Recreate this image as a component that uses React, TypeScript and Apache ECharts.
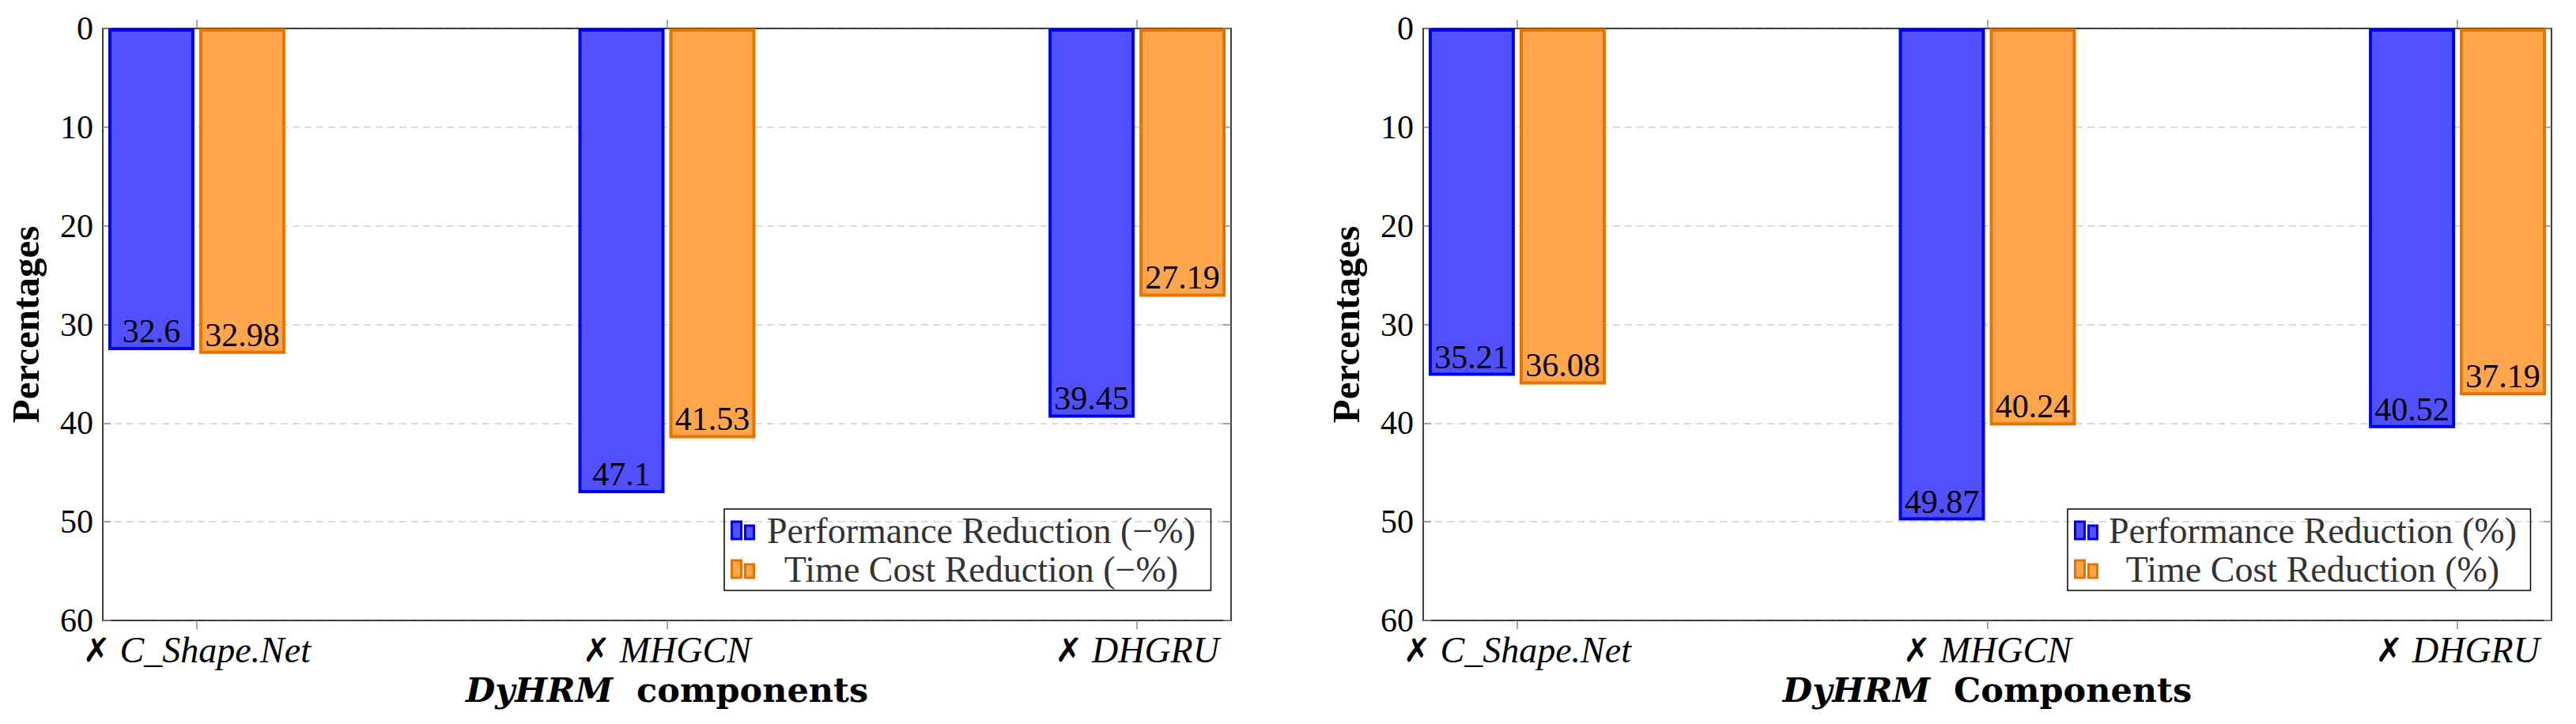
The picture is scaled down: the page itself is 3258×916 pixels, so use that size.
import React, { useEffect, useRef } from 'react'
import * as echarts from 'echarts'

const categories = ['C_Shape.Net', 'MHGCN', 'DHGRU']
const perfLeft = [32.6, 47.1, 39.45]
const timeLeft = [32.98, 41.53, 27.19]
const perfRight = [35.21, 49.87, 40.52]
const timeRight = [36.08, 40.24, 37.19]
const legendLeft = ['Performance Reduction (−%)', 'Time Cost Reduction (−%)']
const legendRight = ['Performance Reduction (%)', 'Time Cost Reduction (%)']
const xNames = ['components', 'Components']

const SERIF = 'Liberation Serif, DejaVu Serif, serif'
const WIDE_SERIF = 'DejaVu Serif, serif'
const BLUE = { fill: '#5050FF', border: '#0000E6' }
const ORANGE = { fill: '#FFA64D', border: '#E67300' }
const ICON = 'path://M0,0H12V22H0Z M17,5H28V22H17Z'

const catIdx = categories.map((_, i) => i)

const App: React.FC = () => {
  const chartRef = useRef<HTMLDivElement>(null)

  useEffect(() => {
    if (!chartRef.current) return
    const chart = echarts.init(chartRef.current, undefined, { renderer: 'svg' })

    const grids = [
      { left: 130, top: 36, width: 1427, height: 749 },
      { left: 1800, top: 36, width: 1427, height: 749 }
    ]

    const xAxes: any[] = []
    const yAxes: any[] = []
    grids.forEach((_, g) => {
      xAxes.push({
        type: 'value',
        gridIndex: g,
        position: 'bottom',
        min: -0.2,
        max: 2.2,
        axisLine: { show: true, onZero: false, lineStyle: { color: '#000', width: 1.5 } },
        axisTick: { show: true, inside: false, length: 11, customValues: catIdx, lineStyle: { color: '#888', width: 1.5 } },
        axisLabel: {
          customValues: catIdx,
          margin: 14,
          formatter: (v: number) => `{m|✗}{i| ${categories[Math.round(v)]}}`,
          rich: {
            m: { fontFamily: 'DejaVu Sans, sans-serif', fontSize: 42, fontWeight: 'bold', color: '#000' },
            i: { fontFamily: SERIF, fontStyle: 'italic', fontSize: 46, color: '#000' }
          }
        },
        splitLine: { show: false },
        name: `{bi|DyHRM}{b|  ${xNames[g]}}`,
        nameLocation: 'middle',
        nameGap: 66,
        nameTextStyle: {
          rich: {
            bi: { fontFamily: WIDE_SERIF, fontStyle: 'italic', fontWeight: 'bold', fontSize: 43, color: '#000' },
            b: { fontFamily: WIDE_SERIF, fontWeight: 'bold', fontSize: 43, color: '#000' }
          }
        }
      })
      xAxes.push({
        type: 'value',
        gridIndex: g,
        position: 'top',
        min: -0.2,
        max: 2.2,
        axisLine: { show: true, onZero: false, lineStyle: { color: '#000', width: 1.5 } },
        axisTick: { show: true, inside: false, length: 11, customValues: catIdx, lineStyle: { color: '#888', width: 1.5 } },
        axisLabel: { show: false },
        splitLine: { show: false }
      })
      yAxes.push({
        type: 'value',
        gridIndex: g,
        position: 'left',
        inverse: true,
        min: 0,
        max: 60,
        interval: 10,
        axisLine: { show: true, onZero: false, lineStyle: { color: '#000', width: 1.5 } },
        axisTick: { show: true, inside: true, length: 10, lineStyle: { color: '#888', width: 1.5 } },
        axisLabel: { fontFamily: SERIF, fontSize: 42, color: '#000', margin: 12 },
        splitLine: { show: true, lineStyle: { color: '#cfcfcf', width: 1.5, type: [9, 6] } },
        name: 'Percentages',
        nameLocation: 'middle',
        nameRotate: 90,
        nameGap: 73,
        nameTextStyle: { fontFamily: SERIF, fontWeight: 'bold', fontSize: 49, color: '#000' }
      })
      yAxes.push({
        type: 'value',
        gridIndex: g,
        position: 'right',
        inverse: true,
        min: 0,
        max: 60,
        interval: 10,
        axisLine: { show: true, onZero: false, lineStyle: { color: '#000', width: 1.5 } },
        axisTick: { show: true, inside: true, length: 10, lineStyle: { color: '#888', width: 1.5 } },
        axisLabel: { show: false },
        splitLine: { show: false }
      })
    })

    const makeBar = (name: string, values: number[], col: { fill: string; border: string }, g: number) => ({
      type: 'bar',
      name,
      xAxisIndex: g * 2,
      yAxisIndex: g * 2,
      barWidth: 109,
      barGap: '5.5%',
      data: values.map((v, i) => [i, v]),
      itemStyle: { color: col.fill, borderColor: col.border, borderWidth: 4 },
      label: {
        show: true,
        position: 'insideBottom',
        distance: 3,
        fontFamily: SERIF,
        fontSize: 42,
        color: '#000',
        formatter: (p: any) => String(p.value[1])
      }
    })

    const makeLegend = (names: string[], left: number, textWidth: number) => ({
      orient: 'vertical',
      left,
      top: 644,
      padding: [4, 8],
      itemGap: 3,
      itemWidth: 28,
      itemHeight: 22,
      borderColor: '#000',
      borderWidth: 1.5,
      selectedMode: false,
      icon: ICON,
      itemStyle: { borderWidth: 3 },
      data: names,
      formatter: (n: string) => `{t|${n}}`,
      textStyle: {
        rich: {
          t: { width: textWidth, align: 'center', fontFamily: SERIF, fontSize: 46, lineHeight: 46, color: '#333' }
        }
      }
    })

    const option = {
      animation: false,
      backgroundColor: '#fff',
      textStyle: { fontFamily: SERIF },
      grid: grids,
      xAxis: xAxes,
      yAxis: yAxes,
      legend: [makeLegend(legendLeft, 916, 565), makeLegend(legendRight, 2615, 535)],
      series: [
        makeBar(legendLeft[0], perfLeft, BLUE, 0),
        makeBar(legendLeft[1], timeLeft, ORANGE, 0),
        makeBar(legendRight[0], perfRight, BLUE, 1),
        makeBar(legendRight[1], timeRight, ORANGE, 1)
      ]
    }

    chart.setOption(option)
    return () => {
      chart.dispose()
    }
  }, [])

  return (
    <div
      ref={chartRef}
      style={{ position: 'fixed', left: 0, top: 0, width: '3258px', height: '916px', background: '#fff' }}
    />
  )
}

export default App
